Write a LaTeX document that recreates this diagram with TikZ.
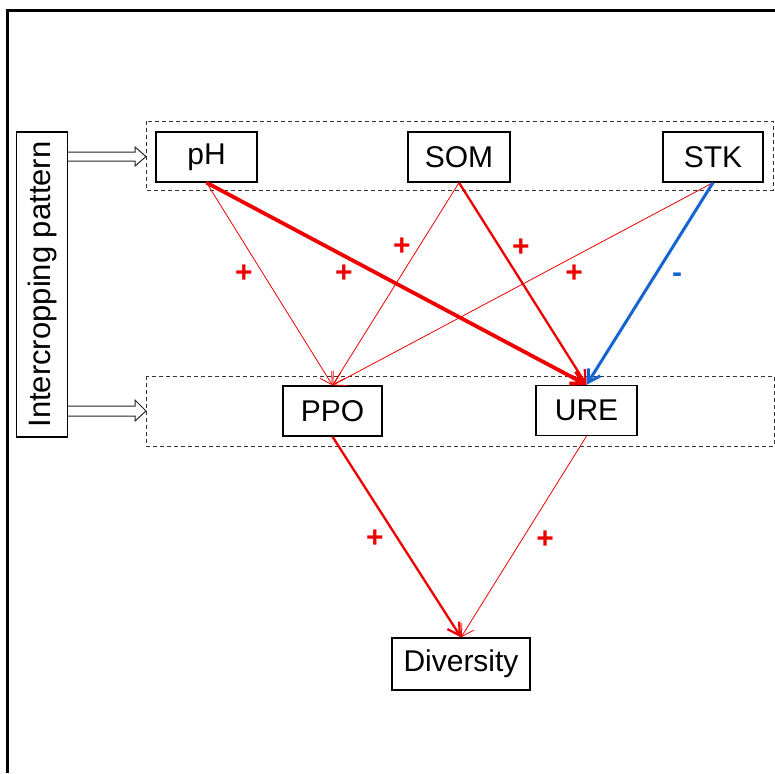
\documentclass[tikz,border=0pt]{standalone}
\usepackage{fontspec}
\setmainfont{Liberation Sans}
\usetikzlibrary{arrows.meta}
\definecolor{pred}{RGB}{238,0,0}
\definecolor{pblue}{RGB}{20,100,210}
\begin{document}
\begin{tikzpicture}[x=1pt,y=-1pt,
  box/.style={draw=black,line width=1.3pt,fill=white,inner sep=0pt,minimum height=50pt,font=\fontsize{30}{32}\selectfont},
  grp/.style={draw=black!80,line width=0.9pt,dash pattern=on 4pt off 3pt},
  lnk/.style={draw=pred,-{Straight Barb[length=12pt,width=14pt]}},
  thinlnk/.style={lnk,line width=0.8pt},
  medlnk/.style={lnk,line width=2.3pt},
  thicklnk/.style={lnk,line width=3.8pt},
  sign/.style={text=pred,font=\bfseries\fontsize{30}{32}\selectfont},
  fat/.style={draw=black!85,line width=1pt,fill=white}
]
\useasboundingbox (0,0) rectangle (775,773);
% frame
\draw[line width=3.5pt] (7.5,773) -- (7.5,10.5) -- (775,10.5);
% groups
\draw[grp] (146,121) rectangle (773,190);
\draw[grp] (146,376) rectangle (774,446);
% side box
\node[box,rotate=90,minimum width=305pt,minimum height=51pt,font=\fontsize{31}{33}\selectfont] (ip) at (42,284.5) {Intercropping pattern};
% nodes
\node[box,minimum width=101pt] (ph) at (206.5,157) {pH};
\node[box,minimum width=102pt] (som) at (459,157) {SOM};
\node[box,minimum width=100pt] (stk) at (713,157) {STK};
\node[box,minimum width=99pt] (ppo) at (332.5,411) {PPO};
\node[box,minimum width=101pt] (ure) at (586.5,410.5) {URE};
\node[box,minimum width=138pt,minimum height=52pt] (div) at (461,664) {Diversity};
% block arrows
\draw[fat] (ip.south |- 0,152) -- (135,152) -- (135,147) -- (146,156.5) -- (135,166) -- (135,161) -- (ip.south |- 0,161);
\draw[fat] (ip.south |- 0,406) -- (135,406) -- (135,400) -- (146,411) -- (135,421) -- (135,416) -- (ip.south |- 0,416);
% links
\draw[thinlnk] (ph.south) -- (ppo.north);
\draw[thinlnk] (som.south) -- (ppo.north);
\draw[thinlnk] (stk.south) -- (ppo.north);
\draw[medlnk] (som.south) -- (ure.north);
\draw[thicklnk] (ph.south) -- (ure.north);
\draw[lnk,draw=pblue,line width=3pt] (stk.south) -- (ure.north);
\draw[medlnk] (ppo.south) -- (div.north);
\draw[thinlnk] (ure.south) -- (div.north);
% signs
\node[sign] (s1) at (244,274) {+};
\node[sign] (s2) at (344,274) {+};
\node[sign] (s3) at (402,247) {+};
\node[sign] (s4) at (521,248) {+};
\node[sign] (s5) at (574,274) {+};
\node[sign,text=pblue] (s6) at (677,278) {-};
\node[sign] (s7) at (375,539) {+};
\node[sign] (s8) at (545,540) {+};
\end{tikzpicture}
\end{document}
